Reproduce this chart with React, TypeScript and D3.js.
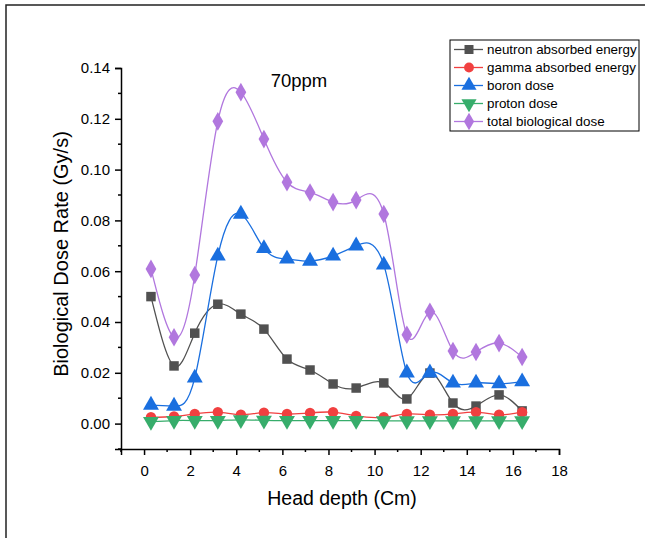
import React, { useEffect, useRef } from 'react';
import * as d3 from 'd3';

const depth = [0.3, 1.3, 2.2, 3.2, 4.2, 5.2, 6.2, 7.2, 8.2, 9.2, 10.4, 11.4, 12.4, 13.4, 14.4, 15.4, 16.4];
const neutron = [0.050, 0.0227, 0.0356, 0.047, 0.0431, 0.0372, 0.0254, 0.0211, 0.0156, 0.014, 0.016, 0.0097, 0.0199, 0.0081, 0.0069, 0.0113, 0.005];
const gamma = [0.0025, 0.0028, 0.0038, 0.0045, 0.0035, 0.0043, 0.0038, 0.0042, 0.0045, 0.003, 0.0025, 0.0038, 0.0035, 0.0038, 0.0045, 0.0035, 0.0045];
const boron = [0.0073, 0.0069, 0.018, 0.066, 0.0825, 0.069, 0.0648, 0.064, 0.066, 0.070, 0.0625, 0.020, 0.020, 0.016, 0.016, 0.0157, 0.0165];
const proton = [0.0008, 0.0012, 0.0012, 0.0012, 0.0015, 0.0013, 0.0012, 0.0012, 0.0012, 0.0012, 0.0011, 0.0011, 0.0011, 0.0011, 0.0011, 0.0011, 0.0011];
const total = [0.0609, 0.034, 0.0585, 0.119, 0.1305, 0.112, 0.095, 0.091, 0.0872, 0.088, 0.0825, 0.035, 0.044, 0.0286, 0.0282, 0.0317, 0.0262];

const seriesNames = ['neutron absorbed energy', 'gamma absorbed energy', 'boron dose', 'proton dose', 'total biological dose'];
const seriesValues = [neutron, gamma, boron, proton, total];
const colors = ['#515151', '#F14040', '#1A6FDF', '#37AD6B', '#B177DE'];
const symbols = [d3.symbolSquare, d3.symbolCircle, d3.symbolTriangle, d3.symbolTriangle, d3.symbolDiamond];
const symbolSizes = [90, 85, 110, 110, 100];
const flipped = [false, false, false, true, false];

const yTicks = [0, 0.02, 0.04, 0.06, 0.08, 0.10, 0.12, 0.14];
const xTicks = [0, 2, 4, 6, 8, 10, 12, 14, 16, 18];

const FONT = 'Liberation Sans, Arial, sans-serif';

function App() {
  const ref = useRef<SVGSVGElement>(null);

  useEffect(() => {
    const svg = d3.select(ref.current);
    svg.selectAll('*').remove();

    // outer frame (top and left only)
    svg.append('path')
      .attr('d', 'M6,538 L6,5 L645,5')
      .attr('fill', 'none')
      .attr('stroke', '#222')
      .attr('stroke-width', 1.5);

    const x = d3.scaleLinear().domain([-1, 18]).range([121, 559]);
    const y = d3.scaleLinear().domain([-0.01, 0.14]).range([449, 68]);

    const g = svg.append('g');

    // axes
    const yAxis = g.append('g')
      .attr('transform', 'translate(121,0)')
      .call(d3.axisLeft(y).tickValues(yTicks).tickFormat(d3.format('.2f')).tickSizeOuter(0).tickSize(6).tickPadding(5));
    const xAxis = g.append('g')
      .attr('transform', 'translate(0,449)')
      .call(d3.axisBottom(x).tickValues(xTicks).tickFormat(d3.format('d')).tickSizeOuter(0).tickSize(6).tickPadding(10));

    [yAxis, xAxis].forEach(a => {
      a.select('.domain').attr('stroke', '#000').attr('stroke-width', 1.5);
      a.selectAll('.tick line').attr('stroke', '#000').attr('stroke-width', 1.5);
      a.selectAll('.tick text').attr('font-family', FONT).attr('font-size', 15).attr('fill', '#000');
    });

    // minor ticks
    const yMinor = [-0.01, 0.01, 0.03, 0.05, 0.07, 0.09, 0.11, 0.13];
    g.selectAll('.ymin').data(yMinor).enter().append('line')
      .attr('x1', 121).attr('x2', 118)
      .attr('y1', d => y(d)).attr('y2', d => y(d))
      .attr('stroke', '#000').attr('stroke-width', 1.5);
    const xMinor = [-1, 1, 3, 5, 7, 9, 11, 13, 15, 17];
    g.selectAll('.xmin').data(xMinor).enter().append('line')
      .attr('x1', d => x(d)).attr('x2', d => x(d))
      .attr('y1', 449).attr('y2', 452)
      .attr('stroke', '#000').attr('stroke-width', 1.5);

    // axis titles
    g.append('text')
      .attr('x', 342).attr('y', 505)
      .attr('text-anchor', 'middle')
      .attr('font-family', FONT).attr('font-size', 19.5)
      .text('Head depth (Cm)');
    g.append('text')
      .attr('transform', 'translate(68,254) rotate(-90)')
      .attr('text-anchor', 'middle')
      .attr('font-family', FONT).attr('font-size', 20)
      .text('Biological Dose Rate (Gy/s)');

    g.append('text')
      .attr('x', 299).attr('y', 87)
      .attr('text-anchor', 'middle')
      .attr('font-family', FONT).attr('font-size', 18.5)
      .text('70ppm');

    // series
    const line = d3.line<number>()
      .x((d, i) => x(depth[i]))
      .y(d => y(d))
      .curve(d3.curveNatural);

    seriesValues.forEach((vals, s) => {
      const sg = g.append('g');
      sg.append('path')
        .attr('d', line(vals))
        .attr('fill', 'none')
        .attr('stroke', colors[s])
        .attr('stroke-width', 1.3);
      sg.selectAll('path.pt').data(vals).enter().append('path')
        .attr('class', 'pt')
        .attr('d', d3.symbol().type(symbols[s]).size(symbolSizes[s])())
        .attr('transform', (d, i) => `translate(${x(depth[i])},${y(d)})${flipped[s] ? ' rotate(180)' : ''}`)
        .attr('fill', colors[s]);
    });

    // legend
    const lg = g.append('g').attr('transform', 'translate(450,40)');
    lg.append('rect')
      .attr('width', 189).attr('height', 91)
      .attr('fill', '#fff').attr('stroke', '#000').attr('stroke-width', 1);
    seriesNames.forEach((name, s) => {
      const ly = 9.5 + s * 18;
      lg.append('line')
        .attr('x1', 4).attr('x2', 33).attr('y1', ly).attr('y2', ly)
        .attr('stroke', colors[s]).attr('stroke-width', 1.3);
      lg.append('path')
        .attr('d', d3.symbol().type(symbols[s]).size(symbolSizes[s] * 0.9)())
        .attr('transform', `translate(19,${ly})${flipped[s] ? ' rotate(180)' : ''}`)
        .attr('fill', colors[s]);
      lg.append('text')
        .attr('x', 37).attr('y', ly + 4.5)
        .attr('font-family', FONT).attr('font-size', 13.4)
        .text(name);
    });
  }, []);

  return (
    <svg ref={ref} width={645} height={538} style={{ position: 'absolute', left: 0, top: 0, background: '#fff' }}></svg>
  );
}

export default App;
